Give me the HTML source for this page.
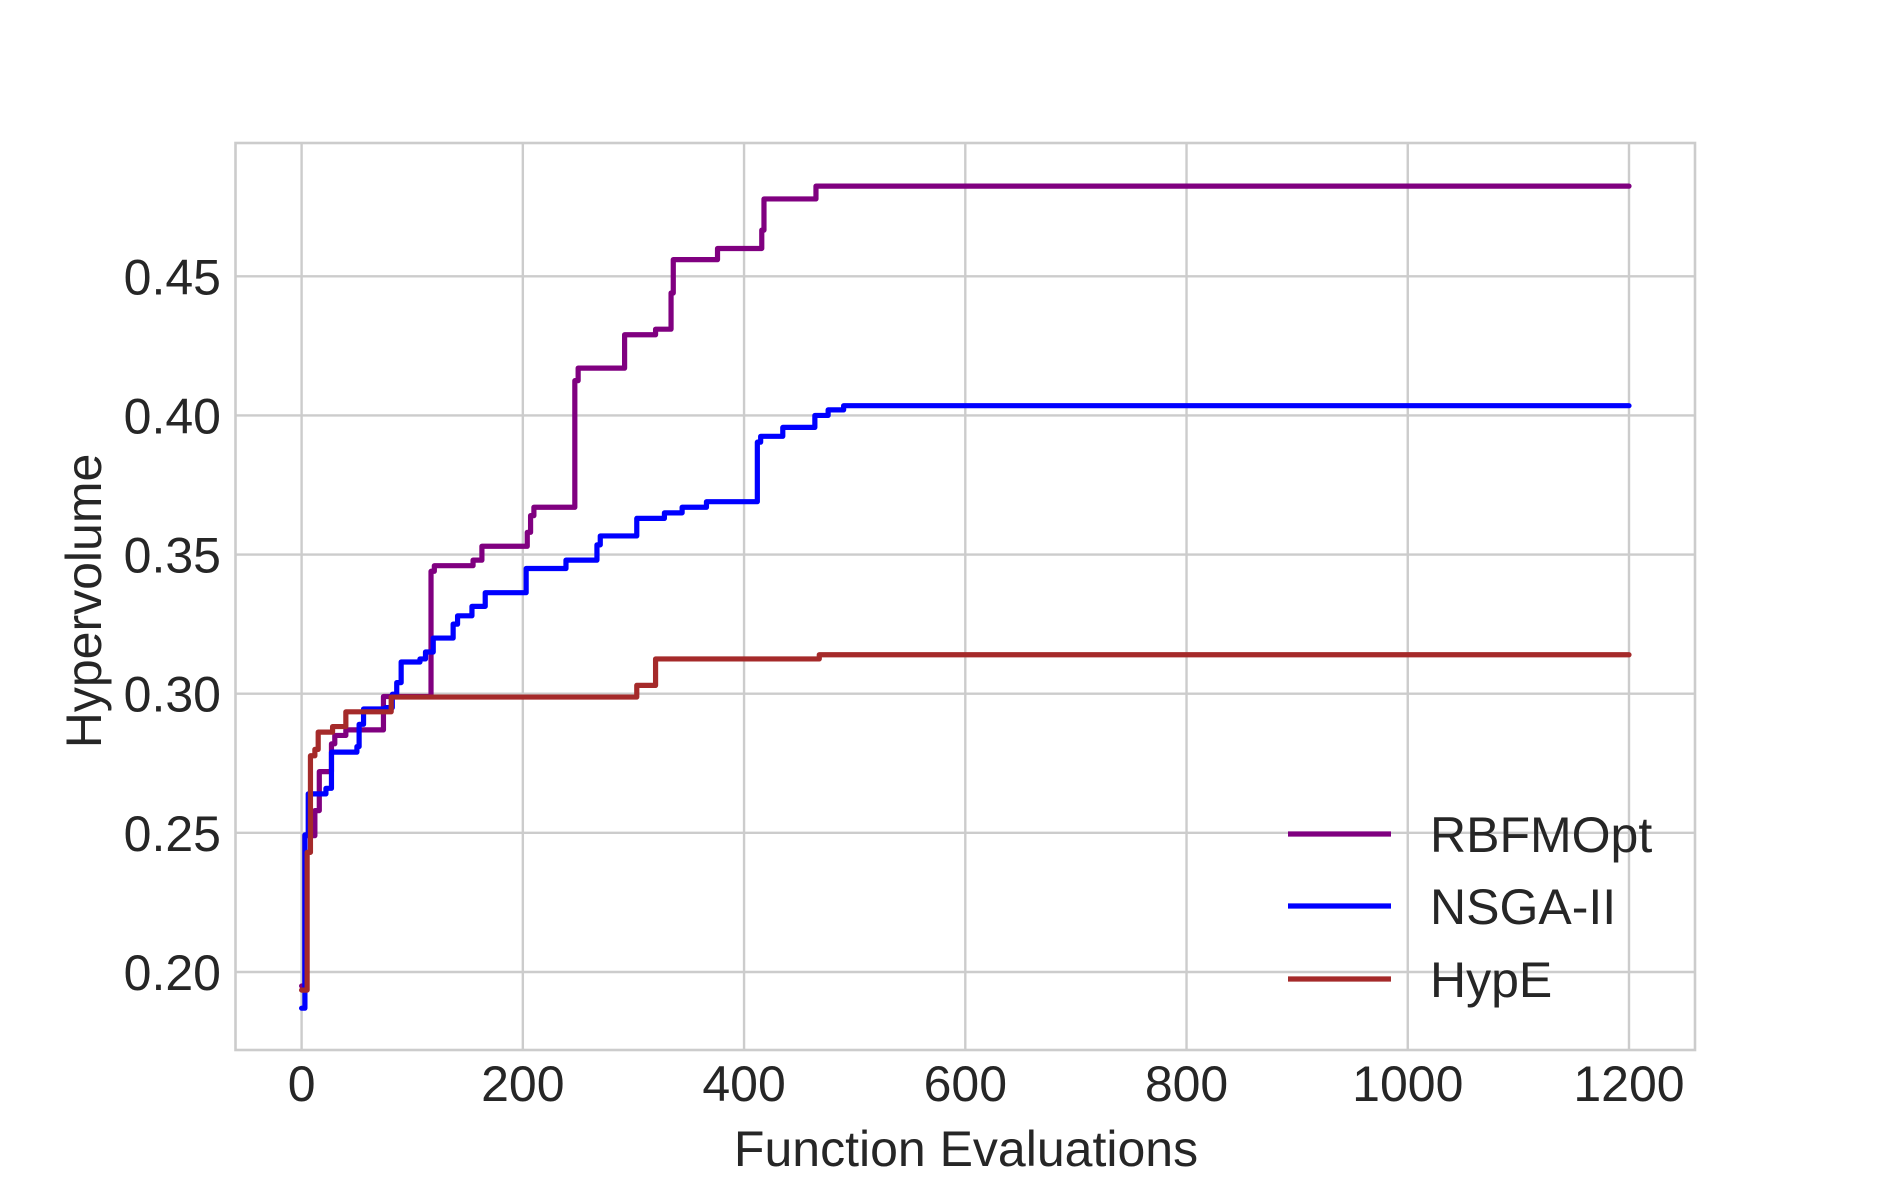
<!DOCTYPE html>
<html><head><meta charset="utf-8"><style>
html,body{margin:0;padding:0;background:#fff;}
svg{display:block;font-family:"Liberation Sans",Arial,sans-serif;}
</style></head><body>
<svg id="chart" width="1884" height="1200" viewBox="0 0 1884 1200" xmlns="http://www.w3.org/2000/svg">
<rect width="1884" height="1200" fill="#fff"/>
<g id="grid"></g>
<g id="series"></g>
<rect x="235.5" y="143" width="1459.5" height="907" fill="none" stroke="#cccccc" stroke-width="2.6"/>
<g id="ticks" fill="#262626" font-size="50"></g>
<text x="966" y="1166" text-anchor="middle" font-size="50" fill="#262626">Function Evaluations</text>
<text x="0" y="0" transform="translate(101,601) rotate(-90)" text-anchor="middle" font-size="50" fill="#262626">Hypervolume</text>
<g id="legend" font-size="50" fill="#262626"></g>
</svg>
<script>
const xTicks = [0,200,400,600,800,1000,1200];
const yTicks = [0.20,0.25,0.30,0.35,0.40,0.45];
const seriesNames = ["RBFMOpt","NSGA-II","HypE"];
const seriesColors = ["#800080","#0000ff","#a52a2a"];
const rbfX = [0,3,12,16,27,30,40,74,117,120,155,163,204,207,210,247,250,292,320,334,336,376,416,418,465,1200];
const rbfY = [0.195,0.249,0.258,0.272,0.282,0.285,0.287,0.299,0.344,0.346,0.348,0.353,0.358,0.364,0.367,0.4125,0.417,0.429,0.431,0.444,0.456,0.460,0.4666,0.4778,0.4824,0.4824];
const nsgaX = [0,3,6,22,27,50,52,56,76,82,86,90,107,112,119,137,141,154,166,203,239,267,270,303,328,344,366,412,415,435,464,476,490,1200];
const nsgaY = [0.187,0.2493,0.264,0.266,0.279,0.281,0.289,0.2945,0.295,0.2998,0.304,0.3114,0.3125,0.315,0.320,0.325,0.328,0.3314,0.3363,0.345,0.348,0.3535,0.3567,0.363,0.365,0.367,0.369,0.3904,0.3925,0.3957,0.400,0.402,0.4035,0.4035];
const hypX = [0,5,8,12,15,28,40,81,303,320,468,1200];
const hypY = [0.1935,0.243,0.2777,0.280,0.2862,0.2882,0.2935,0.2988,0.303,0.3125,0.314,0.314];

const NS="http://www.w3.org/2000/svg";
const L=235.5,R=1695,T=143,B=1050;
function sx(v){return 301.6+(v-0)*(1629-301.6)/1200;}
function sy(v){return 972+(v-0.20)*(276.3-972)/0.25;}
function mk(tag,attrs,parent){const e=document.createElementNS(NS,tag);for(const k in attrs)e.setAttribute(k,attrs[k]);parent.appendChild(e);return e;}
const grid=document.getElementById('grid'),ticks=document.getElementById('ticks');
xTicks.forEach(v=>{
  const l=mk('line',{x1:sx(v),x2:sx(v),y1:T,y2:B,stroke:'#cccccc','stroke-width':2.4},grid);
  
  
  const t=mk('text',{x:sx(v),y:1101,'text-anchor':'middle'},ticks);t.textContent=v;
  
  
});
yTicks.forEach(v=>{
  const l=mk('line',{x1:L,x2:R,y1:sy(v),y2:sy(v),stroke:'#cccccc','stroke-width':2.4},grid);
  
  
  const t=mk('text',{x:221,y:sy(v)+18,'text-anchor':'end'},ticks);t.textContent=v.toFixed(2);
  
  
});
const data=[[rbfX,rbfY],[nsgaX,nsgaY],[hypX,hypY]];
const sg=document.getElementById('series');
data.forEach((d,i)=>{
  let p='';
  for(let k=0;k<d[0].length;k++){
    const x=sx(d[0][k]),y=sy(d[1][k]);
    if(k===0)p+='M'+x+','+y;
    else{p+=' L'+x+','+sy(d[1][k-1])+' L'+x+','+y;}
  }
  const path=mk('path',{d:p,fill:'none',stroke:seriesColors[i],'stroke-width':5.2,'stroke-linejoin':'round','stroke-linecap':'round'},sg);
  
  
});
const lg=document.getElementById('legend');
[834,906,979].forEach((y,i)=>{
  const l=mk('line',{x1:1288,x2:1391,y1:y,y2:y,stroke:seriesColors[i],'stroke-width':5.2},lg);
  
  
  const t=mk('text',{x:1430,y:y+18},lg);t.textContent=seriesNames[i];
  
  
});
</script>
</body></html>
